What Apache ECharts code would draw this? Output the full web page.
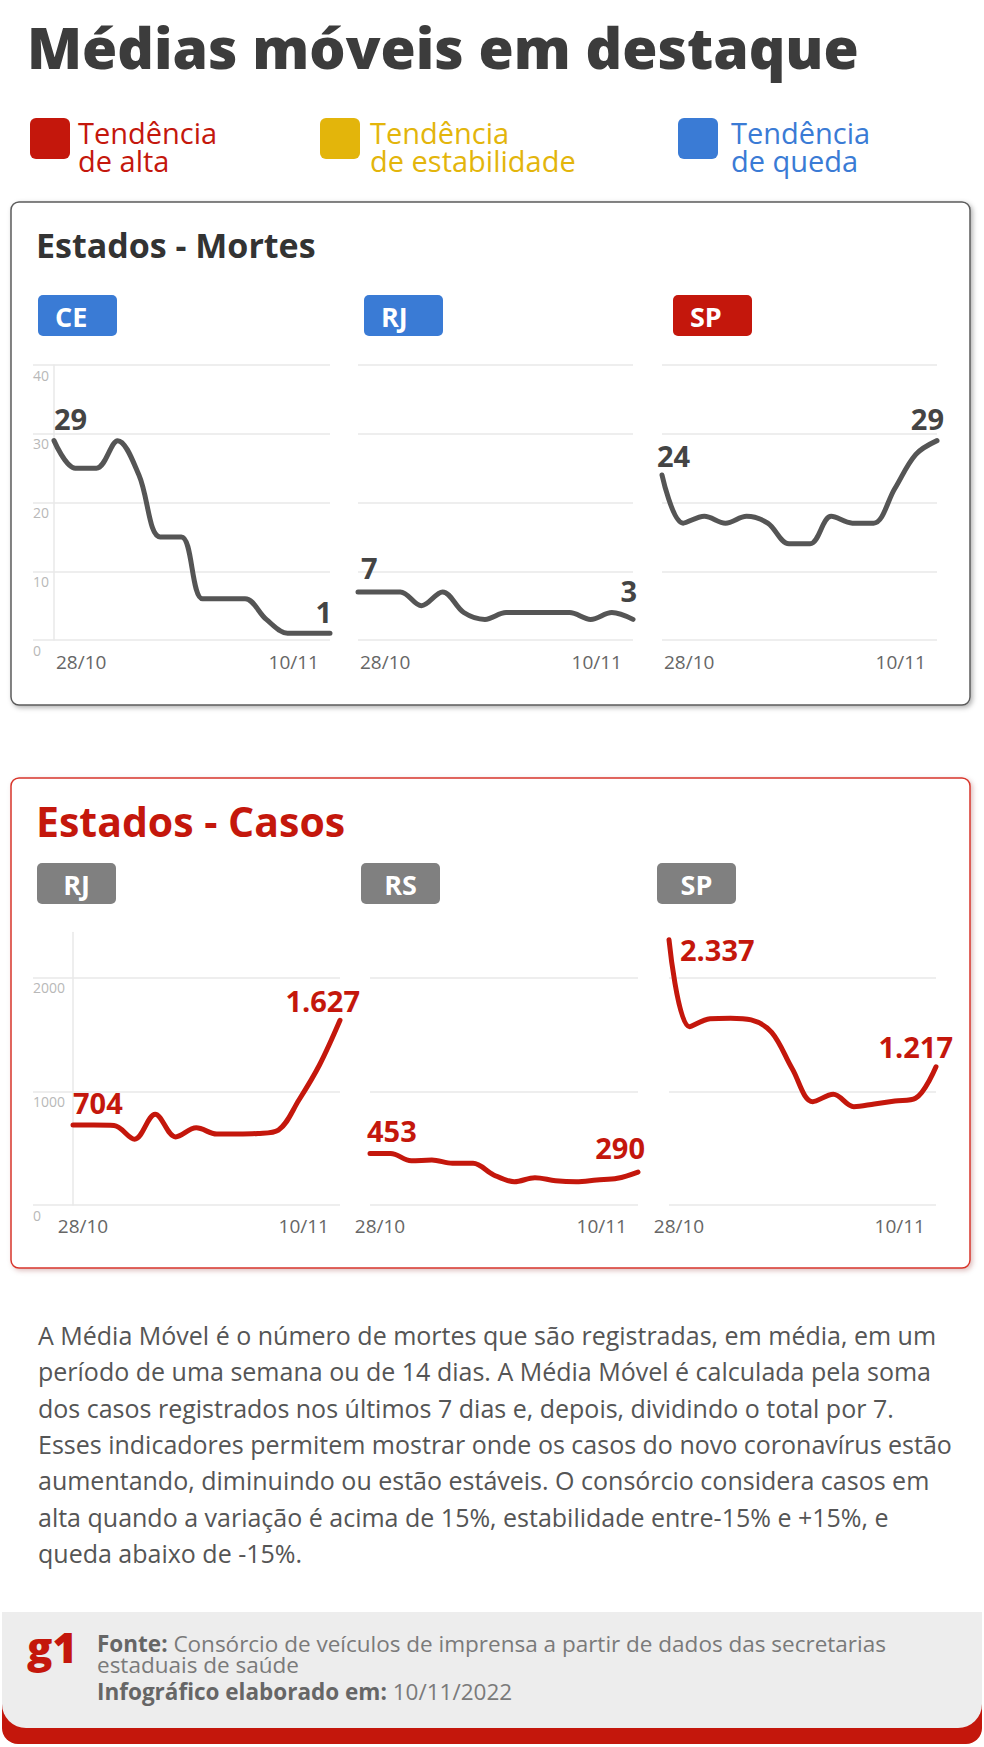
<!DOCTYPE html>
<html lang="pt-BR">
<head>
<meta charset="utf-8">
<title>Médias móveis em destaque</title>
<script src="https://cdn.jsdelivr.net/npm/echarts@6.0.0/dist/echarts.min.js"></script>
<style>
  html, body { margin: 0; padding: 0; background: #fff; }
  #chart { width: 984px; height: 1747px; }
</style>
</head>
<body>
<div id="chart"></div>
<script>
let dates = ['28/10', '29/10', '30/10', '31/10', '01/11', '02/11', '03/11', '04/11', '05/11', '06/11', '07/11', '08/11', '09/11', '10/11']

// médias móveis de mortes
let mortesCE = [29, 25, 25, 29, 24, 15, 15, 6, 6, 6, 3, 1, 1, 1]
let mortesRJ = [7, 7, 7, 5, 7, 4, 3, 4, 4, 4, 4, 3, 4, 3]
let mortesSP = [24, 17, 18, 17, 18, 17, 14, 14, 18, 17, 17, 22, 27, 29]

// médias móveis de casos
let casosRJ = [704, 704, 700, 580, 800, 600, 680, 625, 625, 630, 660, 925, 1233, 1627]
let casosRS = [453, 453, 390, 396, 367, 367, 265, 205, 240, 214, 205, 220, 235, 290]
let casosSP = [2337, 1570, 1640, 1645, 1630, 1520, 1200, 910, 975, 866, 890, 916, 940, 1217]

let mortesTicks = [0, 10, 20, 30, 40]
let casosTicks = [0, 1000, 2000]

const FONT = '"Open Sans", "Noto Sans", sans-serif'
const RED = '#c4170c'
const YELLOW = '#e3b50b'
const BLUE = '#3a7bd5'
const GRAY = '#555'

// estilo de cada bloco (mortes / casos)
let kinds = {
  mortes: { top: 365, height: 275, max: 40, ticks: mortesTicks, color: GRAY, labelColor: '#444', badgeY: 295, badgeCenter: false, minPad: [0, 0, 0, 2], minAlign: 'left', labelMargin: 12 },
  casos: { top: 932.5, height: 272.5, max: 2400, ticks: casosTicks, color: RED, labelColor: RED, badgeY: 863, badgeCenter: true, minPad: [0, 0, 0, 20], minAlign: 'center', labelMargin: 11 }
}

let panels = [
  { uf: 'CE', kind: 'mortes', values: mortesCE, badge: BLUE, left: 54, width: 276, yLabels: true, tick: 21, badgeX: 38, start: [0, -22], end: [2, -22] },
  { uf: 'RJ', kind: 'mortes', values: mortesRJ, badge: BLUE, left: 358, width: 275, yLabels: false, tick: 0, badgeX: 364, start: [3, -24], end: [4, -29] },
  { uf: 'SP', kind: 'mortes', values: mortesSP, badge: RED, left: 662, width: 275, yLabels: false, tick: 0, badgeX: 673, start: [-5, -20], end: [7, -22] },
  { uf: 'RJ', kind: 'casos', values: casosRJ, badge: '#808080', left: 73, width: 267, yLabels: true, tick: 40, badgeX: 37, start: [0, -23], end: [20, -20] },
  { uf: 'RS', kind: 'casos', values: casosRS, badge: '#808080', left: 370, width: 268, yLabels: false, tick: 0, badgeX: 361, start: [-3, -23], end: [7, -25] },
  { uf: 'SP', kind: 'casos', values: casosSP, badge: '#808080', left: 669, width: 267, yLabels: false, tick: 0, badgeX: 657, start: [11, 10], end: [17, -20] }
]

function milhar(v) {
  return String(v).replace(/\B(?=(\d{3})+(?!\d))/g, '.')
}

function txt(x, y, text, size, color, weight, extra) {
  return {
    type: 'text', x: x, y: y, silent: true,
    style: Object.assign({
      text: text, fill: color, fontSize: size, fontFamily: FONT, fontWeight: weight || 'normal',
      align: 'left', textAlign: 'left', verticalAlign: 'middle', textVerticalAlign: 'middle'
    }, extra || {})
  }
}

let grid = []
let xAxis = []
let yAxis = []
let series = []

// caixas, títulos, legenda e rodapé
let graphic = [
  { type: 'rect', shape: { x: 11, y: 202, width: 959, height: 503, r: 8 }, style: { fill: '#fff', stroke: '#5c5c5c', lineWidth: 1.5, shadowBlur: 5, shadowOffsetX: 2, shadowOffsetY: 2, shadowColor: 'rgba(0,0,0,0.3)' }, z: -10 },
  { type: 'rect', shape: { x: 11, y: 778, width: 959, height: 490, r: 8 }, style: { fill: '#fff', stroke: '#d8352b', lineWidth: 1.5, shadowBlur: 5, shadowOffsetX: 2, shadowOffsetY: 2, shadowColor: 'rgba(120,0,0,0.25)' }, z: -10 },
  txt(27, 47, 'Médias móveis em destaque', 57, '#3c3c3c', 800),
  txt(36, 245, 'Estados - Mortes', 34, '#333', 'bold'),
  txt(36, 821, 'Estados - Casos', 41, RED, 'bold')
]

let legenda = [
  { text: 'Tendência\nde alta', color: RED, x: 30, tx: 78 },
  { text: 'Tendência\nde estabilidade', color: YELLOW, x: 320, tx: 370 },
  { text: 'Tendência\nde queda', color: BLUE, x: 678, tx: 731 }
]
legenda.forEach(l => {
  graphic.push({ type: 'rect', shape: { x: l.x, y: 118, width: 40, height: 41, r: 6 }, style: { fill: l.color } })
  graphic.push(txt(l.tx, 146, l.text, 29, l.color, 'normal', { lineHeight: 28 }))
})

panels.forEach((p, i) => {
  let k = kinds[p.kind]
  let last = p.values.length - 1
  grid.push({ left: p.left, top: k.top, width: p.width, height: k.height, containLabel: false })
  xAxis.push({
    type: 'category', gridIndex: i, data: dates, boundaryGap: false,
    axisLine: { show: false }, axisTick: { show: false },
    axisLabel: {
      interval: (idx) => idx === 0 || idx === last,
      alignMinLabel: k.minAlign, alignMaxLabel: 'right',
      margin: k.labelMargin, color: '#666', fontSize: 19, fontFamily: FONT,
      formatter: (v, idx) => idx === 0 ? '{a|' + v + '}' : '{b|' + v + '}',
      rich: {
        a: { padding: k.minPad, color: '#666', fontSize: 19, fontFamily: FONT },
        b: { padding: [0, 11, 0, 0], color: '#666', fontSize: 19, fontFamily: FONT }
      }
    }
  })
  yAxis.push({
    type: 'value', gridIndex: i, min: 0, max: k.max, interval: k.ticks[1],
    axisLine: { show: p.yLabels, lineStyle: { color: '#e8e8e8', width: 1.5 } },
    axisTick: { show: p.yLabels, length: p.tick, customValues: k.ticks, lineStyle: { color: '#e8e8e8', width: 1.5 } },
    splitLine: { show: true, lineStyle: { color: '#e8e8e8', width: 1.5 } },
    axisLabel: {
      show: p.yLabels, customValues: k.ticks, formatter: (v) => String(v),
      align: 'left', verticalAlign: 'top', margin: p.tick, padding: [3, 0, 0, 0],
      color: '#b8b8b8', fontSize: 14, fontFamily: FONT
    }
  })
  series.push({
    type: 'line', xAxisIndex: i, yAxisIndex: i, smooth: 0.35,
    showSymbol: true, showAllSymbol: true, animation: false,
    lineStyle: { color: k.color, width: 5, cap: 'round', join: 'round' },
    itemStyle: { color: k.color },
    emphasis: { disabled: true },
    data: p.values.map((v, idx) => {
      if (idx !== 0 && idx !== last) return { value: v, symbol: 'none' }
      let off = idx === 0 ? p.start : p.end
      return {
        value: v, symbol: 'circle', symbolSize: 2,
        label: {
          show: true, formatter: milhar(v), position: [1 + off[0], 1 + off[1]],
          align: idx === 0 ? 'left' : 'right', verticalAlign: 'middle',
          color: k.labelColor, fontSize: 29, fontWeight: 'bold', fontFamily: FONT
        }
      }
    })
  })
  // etiqueta do estado
  graphic.push({
    type: 'group', x: p.badgeX, y: k.badgeY,
    children: [
      { type: 'rect', shape: { x: 0, y: 0, width: 79, height: 41, r: 5 }, style: { fill: p.badge } },
      txt(k.badgeCenter ? 39.5 : 17, 21, p.uf, 27, '#fff', 'bold', k.badgeCenter ? { align: 'center', textAlign: 'center' } : {})
    ]
  })
})

// nota explicativa
let nota = [
  'A Média Móvel é o número de mortes que são registradas, em média, em um',
  'período de uma semana ou de 14 dias. A Média Móvel é calculada pela soma',
  'dos casos registrados nos últimos 7 dias e, depois, dividindo o total por 7.',
  'Esses indicadores permitem mostrar onde os casos do novo coronavírus estão',
  'aumentando, diminuindo ou estão estáveis. O consórcio considera casos em',
  'alta quando a variação é acima de 15%, estabilidade entre-15% e +15%, e',
  'queda abaixo de -15%.'
]
nota.forEach((linha, i) => {
  graphic.push(txt(38, 1335 + i * 36.3, linha, 25, '#555', 'normal', { lineHeight: 34 }))
})

// rodapé
graphic.push({ type: 'rect', shape: { x: 2, y: 1660, width: 980, height: 84, r: [0, 0, 16, 16] }, style: { fill: RED } })
graphic.push({ type: 'rect', shape: { x: 2, y: 1612, width: 980, height: 116, r: [0, 0, 24, 24] }, style: { fill: '#ededed' } })
graphic.push(txt(27, 1646, 'g1', 42, RED, 800))
let rich = {
  b: { fontWeight: 'bold', fill: '#666', fontSize: 22.5, fontFamily: FONT, lineHeight: 21 },
  r: { fill: '#7a7a7a', fontSize: 22.5, fontFamily: FONT, lineHeight: 21 }
}
graphic.push(txt(97, 1653.5, '{b|Fonte:} {r|Consórcio de veículos de imprensa a partir de dados das secretarias}\n{r|estaduais de saúde}', 22.5, '#777', 'normal', { rich: rich, lineHeight: 21 }))
graphic.push(txt(97, 1691, '{b|Infográfico elaborado em:} {r|10/11/2022}', 22.5, '#777', 'normal', { rich: rich, lineHeight: 21 }))

let chart = echarts.init(document.getElementById('chart'), null, { renderer: 'svg' })
chart.setOption({
  backgroundColor: '#fff',
  animation: false,
  grid: grid,
  xAxis: xAxis,
  yAxis: yAxis,
  series: series,
  graphic: graphic
})
</script>
</body>
</html>
